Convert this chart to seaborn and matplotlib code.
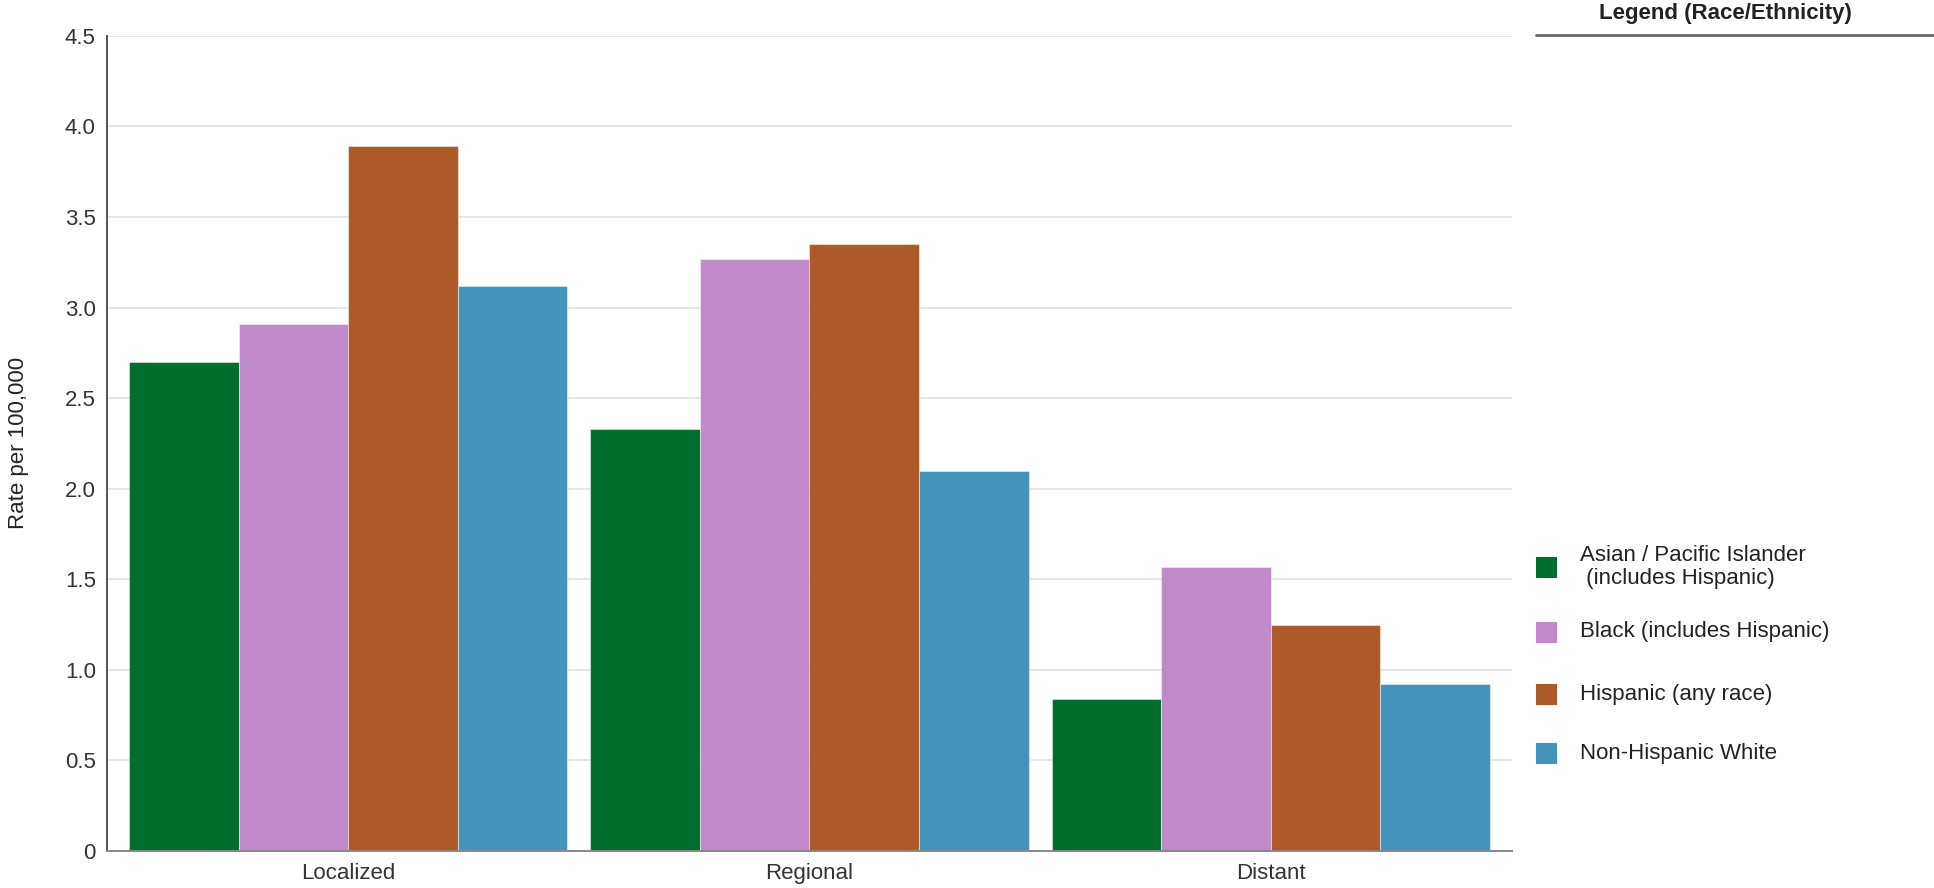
import matplotlib
matplotlib.use("Agg")
import matplotlib.pyplot as plt
from matplotlib.patches import Rectangle
from matplotlib.lines import Line2D
from matplotlib.ticker import FuncFormatter
import pandas as pd
import seaborn as sns

# data
stages = ["Localized", "Regional", "Distant"]
groups = [
    "Asian / Pacific Islander\n (includes Hispanic)",
    "Black (includes Hispanic)",
    "Hispanic (any race)",
    "Non-Hispanic White",
]
asian = [2.70, 2.33, 0.84]
black = [2.91, 3.27, 1.57]
hispanic = [3.89, 3.35, 1.25]
white = [3.12, 2.10, 0.92]
colors = ["#006d2c", "#c189c9", "#ad5a28", "#4393bb"]

rows = []
for g, vals in zip(groups, [asian, black, hispanic, white]):
    for s, v in zip(stages, vals):
        rows.append({"stage": s, "group": g, "rate": v})
df = pd.DataFrame(rows)

sns.set_style("white")
plt.rcParams["font.family"] = ["Liberation Sans", "DejaVu Sans"]

W, H = 1934, 888
fig = plt.figure(figsize=(W / 100, H / 100), dpi=100)
ax = fig.add_axes([0.0553, 0.0417, 0.7265, 0.918])

sns.barplot(data=df, x="stage", y="rate", hue="group", order=stages,
            hue_order=groups, palette=colors, width=0.95, gap=0,
            edgecolor=(1, 1, 1, 0.45), linewidth=0.8, ax=ax, legend=False,
            saturation=1, errorbar=None)

ax.set_xlim(-0.523, 2.523)
ax.set_ylim(0, 4.5)
ax.set_yticks([i * 0.5 for i in range(10)])
ax.yaxis.set_major_formatter(FuncFormatter(lambda v, p: "0" if v == 0 else f"{v:.1f}"))
ax.set_axisbelow(True)
ax.yaxis.grid(True, color="#e2e2e2", linewidth=1.2)
ax.xaxis.grid(False)
for side in ["top", "right"]:
    ax.spines[side].set_visible(False)
ax.spines["left"].set_color("#555555")
ax.spines["left"].set_linewidth(1.4)
ax.spines["bottom"].set_color("#888888")
ax.spines["bottom"].set_linewidth(1.4)
ax.tick_params(axis="both", length=0, labelsize=16, labelcolor="#333333", pad=8)
ax.tick_params(axis="x", pad=9)
ax.set_xlabel("")
ax.set_ylabel("Rate per 100,000", fontsize=16, color="#222222", labelpad=26)

# legend panel on the right (title, rule, swatches)
fig.text(1725 / W, 1 - 13 / H, "Legend (Race/Ethnicity)", fontsize=16,
         fontweight="bold", color="#222222", ha="center", va="center")
fig.add_artist(Line2D([1536 / W, 1.0], [1 - 35 / H] * 2, color="#666666", linewidth=2))

entry_y = [567, 632, 694, 753]
for lab, c, yc in zip(groups, colors, entry_y):
    fig.add_artist(Rectangle((1536 / W, 1 - (yc + 10) / H), 20 / W, 20 / H,
                             facecolor=c, edgecolor=c, linewidth=0.8))
    fig.text(1580 / W, 1 - yc / H, lab, fontsize=16, color="#222222",
             ha="left", va="center", linespacing=1.1)

fig.savefig("out.png", dpi=100)
